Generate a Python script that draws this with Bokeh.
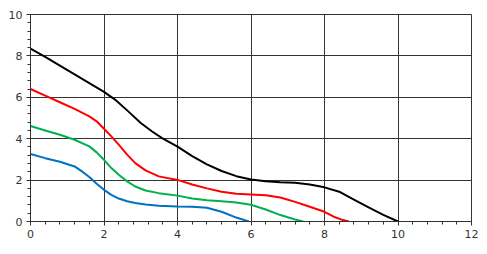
from bokeh.plotting import figure
from bokeh.models import Range1d, SingleIntervalTicker
from bokeh.embed import file_html
from bokeh.resources import INLINE

black_x = [0, 0.4, 0.8, 1.2, 1.6, 2.0, 2.3, 2.66, 3.0, 3.3, 3.58, 4.0, 4.4, 4.8, 5.2, 5.6, 6.0, 6.4, 6.8, 7.2, 7.6, 8.0, 8.4, 8.8, 9.2, 9.6, 10.0]
black_y = [8.35, 7.95, 7.53, 7.11, 6.69, 6.26, 5.89, 5.32, 4.76, 4.36, 4.03, 3.62, 3.16, 2.76, 2.44, 2.19, 2.03, 1.95, 1.9, 1.87, 1.79, 1.65, 1.44, 1.06, 0.68, 0.32, 0]

red_x = [0, 0.4, 0.8, 1.2, 1.6, 1.8, 2.0, 2.2, 2.4, 2.63, 2.85, 3.13, 3.49, 4.0, 4.4, 4.8, 5.2, 5.6, 6.0, 6.4, 6.8, 7.2, 7.6, 8.0, 8.25, 8.45, 8.66]
red_y = [6.4, 6.08, 5.76, 5.44, 5.08, 4.84, 4.48, 4.11, 3.71, 3.23, 2.82, 2.47, 2.18, 2.01, 1.79, 1.6, 1.44, 1.34, 1.31, 1.27, 1.16, 0.95, 0.71, 0.47, 0.23, 0.1, 0]

green_x = [0, 0.4, 0.8, 1.2, 1.6, 1.8, 2.0, 2.2, 2.4, 2.63, 2.85, 3.13, 3.49, 4.0, 4.4, 4.8, 5.2, 5.6, 6.0, 6.4, 6.8, 7.2, 7.42]
green_y = [4.61, 4.4, 4.19, 3.95, 3.63, 3.34, 2.98, 2.58, 2.26, 1.94, 1.69, 1.5, 1.37, 1.25, 1.11, 1.03, 0.98, 0.92, 0.81, 0.58, 0.31, 0.1, 0]

blue_x = [0, 0.4, 0.8, 1.2, 1.4, 1.6, 1.8, 2.0, 2.2, 2.4, 2.63, 2.85, 3.13, 3.49, 4.0, 4.4, 4.8, 5.2, 5.6, 5.94]
blue_y = [3.26, 3.06, 2.89, 2.66, 2.42, 2.15, 1.82, 1.53, 1.29, 1.11, 0.98, 0.89, 0.82, 0.76, 0.72, 0.71, 0.66, 0.47, 0.19, 0]

p = figure(width=487, height=254, output_backend="svg", toolbar_location=None,
           x_range=Range1d(0, 12), y_range=Range1d(0, 10),
           min_border_left=30, min_border_right=16, min_border_top=14, min_border_bottom=33)

p.xaxis.ticker = SingleIntervalTicker(interval=2, num_minor_ticks=5)
p.yaxis.ticker = SingleIntervalTicker(interval=2, num_minor_ticks=5)

for ax in (p.xaxis, p.yaxis):
    ax.axis_line_color = "#333333"
    ax.major_tick_line_color = "#333333"
    ax.minor_tick_line_color = "#333333"
    ax.major_tick_in = 0
    ax.major_tick_out = 4
    ax.minor_tick_in = 0
    ax.minor_tick_out = 3
    ax.major_label_text_font = "DejaVu Sans"
    ax.major_label_text_font_size = "11px"
    ax.major_label_text_color = "#333333"
    ax.major_label_standoff = 4

p.grid.grid_line_color = "#333333"
p.grid.grid_line_width = 1
p.outline_line_color = "#333333"
p.background_fill_color = "white"
p.border_fill_color = "white"

p.line(black_x, black_y, line_color="#000000", line_width=2, line_join="round")
p.line(red_x, red_y, line_color="#ff0000", line_width=2, line_join="round")
p.line(green_x, green_y, line_color="#00b050", line_width=2, line_join="round")
p.line(blue_x, blue_y, line_color="#0070c0", line_width=2, line_join="round")

open("out.html", "w").write(file_html(p, INLINE))
